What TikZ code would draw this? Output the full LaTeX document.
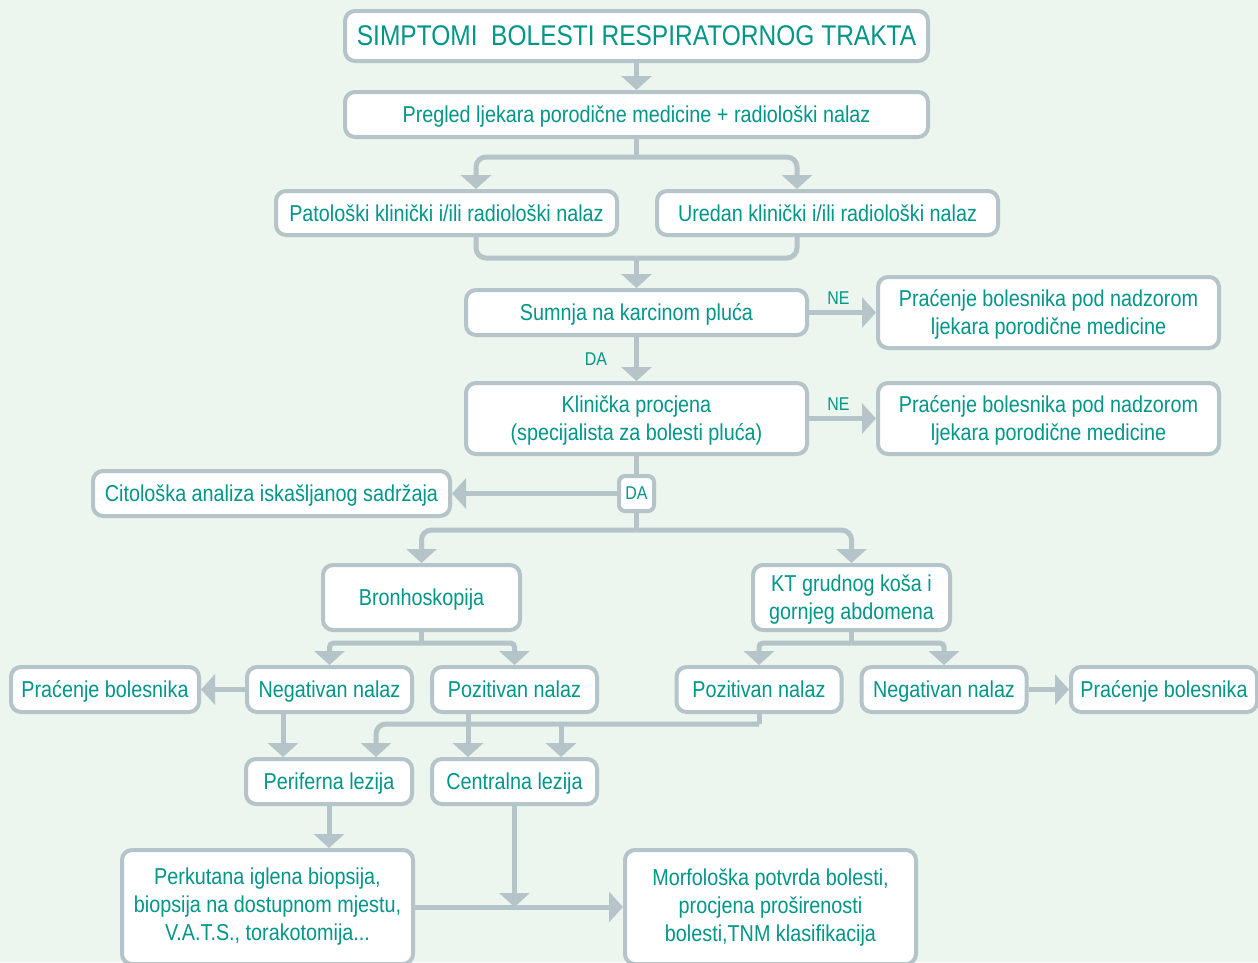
\documentclass[tikz,border=0pt]{standalone}
\usepackage{fontspec}
\setmainfont[FakeStretch=0.86]{Liberation Sans}
\usetikzlibrary{arrows.meta,calc}
\definecolor{bgc}{RGB}{236,245,238}
\definecolor{bordc}{RGB}{180,196,200}
\definecolor{tealc}{RGB}{0,150,136}
\newcommand{\nfont}{\fontsize{23}{28}\selectfont}
\newcommand{\tfont}{\fontsize{28.5}{34}\selectfont}
\newcommand{\lfont}{\fontsize{18.5}{22}\selectfont}
\begin{document}
\begin{tikzpicture}[x=1pt,y=-1pt,
  box/.style={draw=bordc, line width=4pt, rounded corners=10pt, fill=white, text=tealc, align=center, inner sep=0pt, font=\nfont, text depth=0pt},
  ln/.style={draw=bordc, line width=5pt},
  arr/.style={ln, -{Triangle[width=30pt,length=14pt]}},
  lab/.style={text=tealc, font=\lfont, inner sep=0pt}]
\fill[bgc] (0,0) rectangle (1258,962);
\useasboundingbox (0,0) rectangle (1258,962);

% nodes
\node[box, minimum width=583pt, minimum height=50pt, font=\tfont] (title) at (636.5,36) {SIMPTOMI~ BOLESTI RESPIRATORNOG TRAKTA};
\node[box, minimum width=583pt, minimum height=45pt] (pregled) at (636.5,114.5) {Pregled ljekara porodične medicine + radiološki nalaz};
\node[box, minimum width=341pt, minimum height=44pt] (pat) at (446.5,213) {Patološki klinički i/ili radiološki nalaz};
\node[box, minimum width=341pt, minimum height=44pt] (ured) at (827.5,213) {Uredan klinički i/ili radiološki nalaz};
\node[box, minimum width=341pt, minimum height=45pt] (sumnja) at (636.5,312.5) {Sumnja na karcinom pluća};
\node[box, minimum width=341pt, minimum height=71pt] (prac1) at (1048.5,312.5) {Praćenje bolesnika pod nadzorom\\ljekara porodične medicine};
\node[box, minimum width=341pt, minimum height=71pt] (klin) at (636.5,418.5) {Klinička procjena\\(specijalista za bolesti pluća)};
\node[box, minimum width=341pt, minimum height=71pt] (prac2) at (1048.5,418.5) {Praćenje bolesnika pod nadzorom\\ljekara porodične medicine};
\node[box, minimum width=357pt, minimum height=45pt] (cito) at (271.5,493.5) {Citološka analiza iskašljanog sadržaja};
\node[box, minimum width=35pt, minimum height=35pt, rounded corners=6pt, font=\lfont] (da) at (636.5,493.5) {DA};
\node[box, minimum width=197pt, minimum height=65pt] (bronho) at (421.5,597.5) {Bronhoskopija};
\node[box, minimum width=197pt, minimum height=65pt] (kt) at (851.5,597.5) {KT grudnog koša i\\gornjeg abdomena};
\node[box, minimum width=188pt, minimum height=45pt] (prac3) at (105,689.5) {Praćenje bolesnika};
\node[box, minimum width=165pt, minimum height=45pt] (neg1) at (329.5,689.5) {Negativan nalaz};
\node[box, minimum width=165pt, minimum height=45pt] (poz1) at (514.5,689.5) {Pozitivan nalaz};
\node[box, minimum width=165pt, minimum height=45pt] (poz2) at (759,689.5) {Pozitivan nalaz};
\node[box, minimum width=165pt, minimum height=45pt] (neg2) at (944,689.5) {Negativan nalaz};
\node[box, minimum width=186pt, minimum height=45pt] (prac4) at (1164,689.5) {Praćenje bolesnika};
\node[box, minimum width=166pt, minimum height=45pt] (perif) at (329,781.5) {Periferna lezija};
\node[box, minimum width=165pt, minimum height=45pt] (centr) at (514.5,781.5) {Centralna lezija};
\node[box, minimum width=291pt, minimum height=114pt, text depth=] (perk) at (267.5,907) {Perkutana iglena biopsija,\\biopsija na dostupnom mjestu,\\V.A.T.S., torakotomija...};
\node[box, minimum width=291pt, minimum height=114pt, text depth=] (morf) at (770.5,907) {Morfološka potvrda bolesti,\\procjena proširenosti\\bolesti,TNM klasifikacija};

% helper coordinates
\coordinate (j1) at (636.5,157);
\coordinate (xL) at (476,0);
\coordinate (xR) at (797,0);
\coordinate (j2) at (636.5,258);
\coordinate (j3) at (636.5,530);
\coordinate (j4) at (421.5,643);
\coordinate (j5) at (851.5,643);
\coordinate (xa) at (283,0);
\coordinate (xb) at (468,0);
\coordinate (xc) at (561,0);
\coordinate (xd) at (376,0);
\coordinate (j6) at (759,724);
\coordinate (j7) at (514.5,907);

% connectors
\draw[arr] (title) -- (pregled);
\draw[ln] (pregled.south) -- (j1);
\draw[arr, rounded corners=10pt] (j1) -| (pat.north -| xL);
\draw[arr, rounded corners=10pt] (j1) -| (ured.north -| xR);
\draw[ln, rounded corners=10pt] (pat.south -| xL) |- (j2);
\draw[ln, rounded corners=10pt] (ured.south -| xR) |- (j2);
\draw[arr] (j2) -- (sumnja.north);
\draw[arr] (sumnja.east) -- (prac1.west) node[lab, midway, above=6pt, xshift=-4pt] {NE};
\draw[arr] (sumnja.south) -- (klin.north) node[lab, midway, left=27pt] {DA};
\draw[arr] (klin.east) -- (prac2.west) node[lab, midway, above=6pt, xshift=-4pt] {NE};
\draw[ln] (klin.south) -- (da.north);
\draw[arr] (da.west) -- (cito.east);
\draw[ln] (da.south) -- (j3);
\draw[arr, rounded corners=10pt] (j3) -| (bronho.north);
\draw[arr, rounded corners=10pt] (j3) -| (kt.north);
\draw[ln] (bronho.south) -- (j4);
\draw[arr, rounded corners=4pt] (j4) -| (neg1.north);
\draw[arr, rounded corners=4pt] (j4) -| (poz1.north);
\draw[ln] (kt.south) -- (j5);
\draw[arr, rounded corners=4pt] (j5) -| (poz2.north);
\draw[arr, rounded corners=4pt] (j5) -| (neg2.north);
\draw[arr] (neg1.west) -- (prac3.east);
\draw[arr] (neg2.east) -- (prac4.west);
\draw[arr] (neg1.south -| xa) -- (perif.north -| xa);
\draw[ln] (poz2.south) -- (j6);
\draw[arr, rounded corners=10pt] (j6) -| (perif.north -| xd);
\draw[arr] (poz1.south -| xb) -- (centr.north -| xb);
\draw[arr] (j6 -| xc) -- (centr.north -| xc);
\draw[arr] (perif.south) -- (perif.south |- perk.north);
\draw[arr] (centr.south) -- (j7);
\draw[arr] (perk.east |- j7) -- (morf.west |- j7);
\end{tikzpicture}
\end{document}
